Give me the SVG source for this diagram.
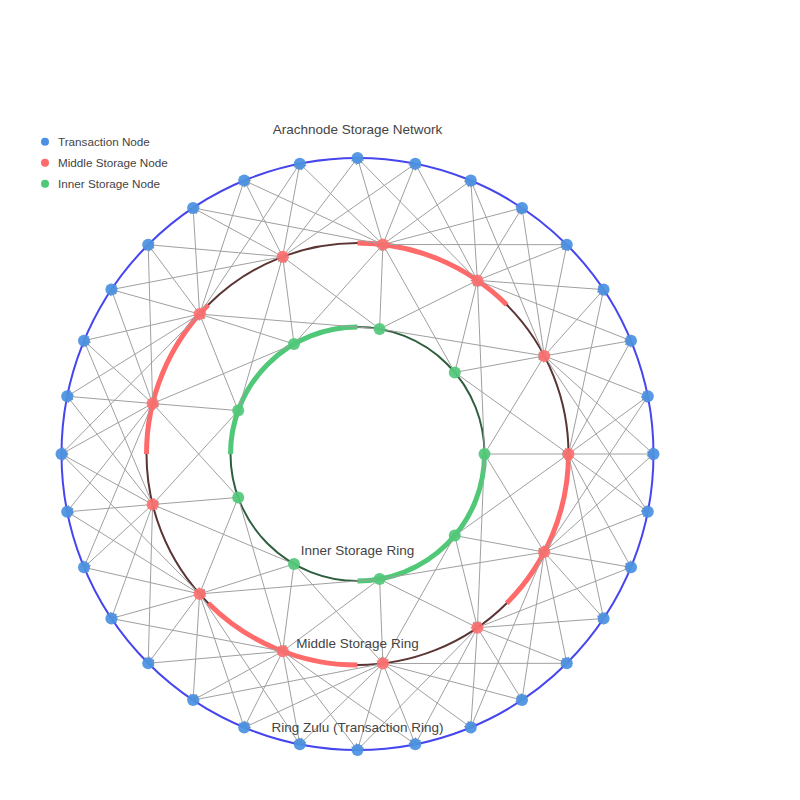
<svg xmlns="http://www.w3.org/2000/svg" width="800" height="800" viewBox="0 0 800 800">
<style>
.e{stroke:#a0a0a0;stroke-width:1;fill:none;marker-end:url(#ah)}
.t{fill:#4a90e2;fill-opacity:0.92}
.m{fill:#ff6b6b;fill-opacity:0.88}
.i{fill:#50c878;fill-opacity:0.92}
.lbl{font-family:"Liberation Sans",Arial,sans-serif;font-size:13.5px;fill:#444;text-anchor:middle}
.leg{font-family:"Liberation Sans",Arial,sans-serif;font-size:11.7px;fill:#444}
</style>
<defs>
<marker id="ah" viewBox="-8 -5 9 10" refX="0" refY="0" markerWidth="9" markerHeight="10" markerUnits="userSpaceOnUse" orient="auto">
<path d="M-6,-3 L0,0 L-6,3" fill="none" stroke="#999" stroke-width="1"/>
</marker>
</defs>
<rect width="800" height="800" fill="#fff"/>
<g id="rings">
<circle cx="357.5" cy="454" r="296" fill="none" stroke="#4646ee" stroke-width="2"/>
<circle cx="357.5" cy="454" r="211" fill="none" stroke="#5b3434" stroke-width="2"/>
<circle cx="357.5" cy="454" r="127" fill="none" stroke="#2e5e3e" stroke-width="2"/>
<g fill="none" stroke="#ff6b6b" stroke-width="5">
<path d="M506.7,304.8 A211,211 0 0 0 357.5,243"/>
<path d="M208.3,304.8 A211,211 0 0 0 146.5,454"/>
<path d="M208.3,603.2 A211,211 0 0 0 357.5,665"/>
<path d="M506.7,603.2 A211,211 0 0 0 568.5,454"/>
</g>
<g fill="none" stroke="#50c878" stroke-width="5">
<path d="M357.5,327 A127,127 0 0 0 230.5,454"/>
<path d="M357.5,581 A127,127 0 0 0 484.5,454"/>
</g>
</g>
<g id="connectors">
<line class="e" x1="568.5" y1="454" x2="653.5" y2="454"/>
<line class="e" x1="544.3" y1="355.9" x2="653.5" y2="454"/>
<line class="e" x1="544.3" y1="552.1" x2="653.5" y2="454"/>
<line class="e" x1="568.5" y1="454" x2="647.8" y2="396.3"/>
<line class="e" x1="544.3" y1="355.9" x2="647.8" y2="396.3"/>
<line class="e" x1="544.3" y1="552.1" x2="647.8" y2="396.3"/>
<line class="e" x1="544.3" y1="355.9" x2="631" y2="340.7"/>
<line class="e" x1="568.5" y1="454" x2="631" y2="340.7"/>
<line class="e" x1="477.4" y1="280.4" x2="631" y2="340.7"/>
<line class="e" x1="544.3" y1="355.9" x2="603.6" y2="289.6"/>
<line class="e" x1="477.4" y1="280.4" x2="603.6" y2="289.6"/>
<line class="e" x1="568.5" y1="454" x2="603.6" y2="289.6"/>
<line class="e" x1="477.4" y1="280.4" x2="566.8" y2="244.7"/>
<line class="e" x1="544.3" y1="355.9" x2="566.8" y2="244.7"/>
<line class="e" x1="382.9" y1="244.5" x2="566.8" y2="244.7"/>
<line class="e" x1="477.4" y1="280.4" x2="522" y2="207.9"/>
<line class="e" x1="382.9" y1="244.5" x2="522" y2="207.9"/>
<line class="e" x1="544.3" y1="355.9" x2="522" y2="207.9"/>
<line class="e" x1="477.4" y1="280.4" x2="470.8" y2="180.5"/>
<line class="e" x1="382.9" y1="244.5" x2="470.8" y2="180.5"/>
<line class="e" x1="544.3" y1="355.9" x2="470.8" y2="180.5"/>
<line class="e" x1="382.9" y1="244.5" x2="415.3" y2="163.7"/>
<line class="e" x1="477.4" y1="280.4" x2="415.3" y2="163.7"/>
<line class="e" x1="282.7" y1="256.7" x2="415.3" y2="163.7"/>
<line class="e" x1="382.9" y1="244.5" x2="357.5" y2="158"/>
<line class="e" x1="282.7" y1="256.7" x2="357.5" y2="158"/>
<line class="e" x1="477.4" y1="280.4" x2="357.5" y2="158"/>
<line class="e" x1="282.7" y1="256.7" x2="299.8" y2="163.7"/>
<line class="e" x1="382.9" y1="244.5" x2="299.8" y2="163.7"/>
<line class="e" x1="199.6" y1="314.1" x2="299.8" y2="163.7"/>
<line class="e" x1="282.7" y1="256.7" x2="244.2" y2="180.5"/>
<line class="e" x1="199.6" y1="314.1" x2="244.2" y2="180.5"/>
<line class="e" x1="382.9" y1="244.5" x2="244.2" y2="180.5"/>
<line class="e" x1="282.7" y1="256.7" x2="193.1" y2="207.9"/>
<line class="e" x1="199.6" y1="314.1" x2="193.1" y2="207.9"/>
<line class="e" x1="382.9" y1="244.5" x2="193.1" y2="207.9"/>
<line class="e" x1="199.6" y1="314.1" x2="148.2" y2="244.7"/>
<line class="e" x1="282.7" y1="256.7" x2="148.2" y2="244.7"/>
<line class="e" x1="152.6" y1="403.5" x2="148.2" y2="244.7"/>
<line class="e" x1="199.6" y1="314.1" x2="111.4" y2="289.6"/>
<line class="e" x1="152.6" y1="403.5" x2="111.4" y2="289.6"/>
<line class="e" x1="282.7" y1="256.7" x2="111.4" y2="289.6"/>
<line class="e" x1="152.6" y1="403.5" x2="84" y2="340.7"/>
<line class="e" x1="199.6" y1="314.1" x2="84" y2="340.7"/>
<line class="e" x1="152.6" y1="504.5" x2="84" y2="340.7"/>
<line class="e" x1="152.6" y1="403.5" x2="67.2" y2="396.3"/>
<line class="e" x1="152.6" y1="504.5" x2="67.2" y2="396.3"/>
<line class="e" x1="199.6" y1="314.1" x2="67.2" y2="396.3"/>
<line class="e" x1="152.6" y1="403.5" x2="61.5" y2="454"/>
<line class="e" x1="152.6" y1="504.5" x2="61.5" y2="454"/>
<line class="e" x1="199.6" y1="314.1" x2="61.5" y2="454"/>
<line class="e" x1="199.6" y1="593.9" x2="61.5" y2="454"/>
<line class="e" x1="152.6" y1="504.5" x2="67.2" y2="511.8"/>
<line class="e" x1="152.6" y1="403.5" x2="67.2" y2="511.8"/>
<line class="e" x1="199.6" y1="593.9" x2="67.2" y2="511.8"/>
<line class="e" x1="152.6" y1="504.5" x2="84" y2="567.3"/>
<line class="e" x1="199.6" y1="593.9" x2="84" y2="567.3"/>
<line class="e" x1="152.6" y1="403.5" x2="84" y2="567.3"/>
<line class="e" x1="199.6" y1="593.9" x2="111.4" y2="618.5"/>
<line class="e" x1="152.6" y1="504.5" x2="111.4" y2="618.5"/>
<line class="e" x1="282.7" y1="651.3" x2="111.4" y2="618.5"/>
<line class="e" x1="199.6" y1="593.9" x2="148.2" y2="663.3"/>
<line class="e" x1="282.7" y1="651.3" x2="148.2" y2="663.3"/>
<line class="e" x1="152.6" y1="504.5" x2="148.2" y2="663.3"/>
<line class="e" x1="282.7" y1="651.3" x2="193.1" y2="700.1"/>
<line class="e" x1="199.6" y1="593.9" x2="193.1" y2="700.1"/>
<line class="e" x1="382.9" y1="663.5" x2="193.1" y2="700.1"/>
<line class="e" x1="282.7" y1="651.3" x2="244.2" y2="727.5"/>
<line class="e" x1="199.6" y1="593.9" x2="244.2" y2="727.5"/>
<line class="e" x1="382.9" y1="663.5" x2="244.2" y2="727.5"/>
<line class="e" x1="282.7" y1="651.3" x2="299.8" y2="744.3"/>
<line class="e" x1="382.9" y1="663.5" x2="299.8" y2="744.3"/>
<line class="e" x1="199.6" y1="593.9" x2="299.8" y2="744.3"/>
<line class="e" x1="382.9" y1="663.5" x2="357.5" y2="750"/>
<line class="e" x1="282.7" y1="651.3" x2="357.5" y2="750"/>
<line class="e" x1="477.4" y1="627.7" x2="357.5" y2="750"/>
<line class="e" x1="382.9" y1="663.5" x2="415.3" y2="744.3"/>
<line class="e" x1="477.4" y1="627.7" x2="415.3" y2="744.3"/>
<line class="e" x1="282.7" y1="651.3" x2="415.3" y2="744.3"/>
<line class="e" x1="477.4" y1="627.7" x2="470.8" y2="727.5"/>
<line class="e" x1="382.9" y1="663.5" x2="470.8" y2="727.5"/>
<line class="e" x1="544.3" y1="552.1" x2="470.8" y2="727.5"/>
<line class="e" x1="477.4" y1="627.7" x2="522" y2="700.1"/>
<line class="e" x1="382.9" y1="663.5" x2="522" y2="700.1"/>
<line class="e" x1="544.3" y1="552.1" x2="522" y2="700.1"/>
<line class="e" x1="477.4" y1="627.7" x2="566.8" y2="663.3"/>
<line class="e" x1="544.3" y1="552.1" x2="566.8" y2="663.3"/>
<line class="e" x1="382.9" y1="663.5" x2="566.8" y2="663.3"/>
<line class="e" x1="544.3" y1="552.1" x2="603.6" y2="618.5"/>
<line class="e" x1="477.4" y1="627.7" x2="603.6" y2="618.5"/>
<line class="e" x1="568.5" y1="454" x2="603.6" y2="618.5"/>
<line class="e" x1="544.3" y1="552.1" x2="631" y2="567.3"/>
<line class="e" x1="568.5" y1="454" x2="631" y2="567.3"/>
<line class="e" x1="477.4" y1="627.7" x2="631" y2="567.3"/>
<line class="e" x1="568.5" y1="454" x2="647.8" y2="511.8"/>
<line class="e" x1="544.3" y1="552.1" x2="647.8" y2="511.8"/>
<line class="e" x1="544.3" y1="355.9" x2="647.8" y2="511.8"/>
<line class="e" x1="484.5" y1="454" x2="568.5" y2="454"/>
<line class="e" x1="454.8" y1="372.4" x2="568.5" y2="454"/>
<line class="e" x1="454.8" y1="535.6" x2="568.5" y2="454"/>
<line class="e" x1="454.8" y1="372.4" x2="544.3" y2="355.9"/>
<line class="e" x1="484.5" y1="454" x2="544.3" y2="355.9"/>
<line class="e" x1="379.6" y1="328.9" x2="544.3" y2="355.9"/>
<line class="e" x1="454.8" y1="372.4" x2="477.4" y2="280.4"/>
<line class="e" x1="379.6" y1="328.9" x2="477.4" y2="280.4"/>
<line class="e" x1="484.5" y1="454" x2="477.4" y2="280.4"/>
<line class="e" x1="379.6" y1="328.9" x2="382.9" y2="244.5"/>
<line class="e" x1="294" y1="344" x2="382.9" y2="244.5"/>
<line class="e" x1="454.8" y1="372.4" x2="382.9" y2="244.5"/>
<line class="e" x1="294" y1="344" x2="282.7" y2="256.7"/>
<line class="e" x1="379.6" y1="328.9" x2="282.7" y2="256.7"/>
<line class="e" x1="238.2" y1="410.6" x2="282.7" y2="256.7"/>
<line class="e" x1="294" y1="344" x2="199.6" y2="314.1"/>
<line class="e" x1="238.2" y1="410.6" x2="199.6" y2="314.1"/>
<line class="e" x1="379.6" y1="328.9" x2="199.6" y2="314.1"/>
<line class="e" x1="238.2" y1="410.6" x2="152.6" y2="403.5"/>
<line class="e" x1="238.2" y1="497.4" x2="152.6" y2="403.5"/>
<line class="e" x1="294" y1="344" x2="152.6" y2="403.5"/>
<line class="e" x1="238.2" y1="497.4" x2="152.6" y2="504.5"/>
<line class="e" x1="238.2" y1="410.6" x2="152.6" y2="504.5"/>
<line class="e" x1="294" y1="564" x2="152.6" y2="504.5"/>
<line class="e" x1="294" y1="564" x2="199.6" y2="593.9"/>
<line class="e" x1="238.2" y1="497.4" x2="199.6" y2="593.9"/>
<line class="e" x1="379.6" y1="579.1" x2="199.6" y2="593.9"/>
<line class="e" x1="294" y1="564" x2="282.7" y2="651.3"/>
<line class="e" x1="379.6" y1="579.1" x2="282.7" y2="651.3"/>
<line class="e" x1="238.2" y1="497.4" x2="282.7" y2="651.3"/>
<line class="e" x1="379.6" y1="579.1" x2="382.9" y2="663.5"/>
<line class="e" x1="294" y1="564" x2="382.9" y2="663.5"/>
<line class="e" x1="454.8" y1="535.6" x2="382.9" y2="663.5"/>
<line class="e" x1="454.8" y1="535.6" x2="477.4" y2="627.7"/>
<line class="e" x1="379.6" y1="579.1" x2="477.4" y2="627.7"/>
<line class="e" x1="484.5" y1="454" x2="477.4" y2="627.7"/>
<line class="e" x1="454.8" y1="535.6" x2="544.3" y2="552.1"/>
<line class="e" x1="484.5" y1="454" x2="544.3" y2="552.1"/>
<line class="e" x1="379.6" y1="579.1" x2="544.3" y2="552.1"/>
</g>
<g id="transaction-nodes" class="t">
<circle id="t0" cx="653.5" cy="454" r="6"/>
<circle id="t1" cx="647.8" cy="396.3" r="6"/>
<circle id="t2" cx="631" cy="340.7" r="6"/>
<circle id="t3" cx="603.6" cy="289.6" r="6"/>
<circle id="t4" cx="566.8" cy="244.7" r="6"/>
<circle id="t5" cx="522" cy="207.9" r="6"/>
<circle id="t6" cx="470.8" cy="180.5" r="6"/>
<circle id="t7" cx="415.3" cy="163.7" r="6"/>
<circle id="t8" cx="357.5" cy="158" r="6"/>
<circle id="t9" cx="299.8" cy="163.7" r="6"/>
<circle id="t10" cx="244.2" cy="180.5" r="6"/>
<circle id="t11" cx="193.1" cy="207.9" r="6"/>
<circle id="t12" cx="148.2" cy="244.7" r="6"/>
<circle id="t13" cx="111.4" cy="289.6" r="6"/>
<circle id="t14" cx="84" cy="340.7" r="6"/>
<circle id="t15" cx="67.2" cy="396.3" r="6"/>
<circle id="t16" cx="61.5" cy="454" r="6"/>
<circle id="t17" cx="67.2" cy="511.8" r="6"/>
<circle id="t18" cx="84" cy="567.3" r="6"/>
<circle id="t19" cx="111.4" cy="618.5" r="6"/>
<circle id="t20" cx="148.2" cy="663.3" r="6"/>
<circle id="t21" cx="193.1" cy="700.1" r="6"/>
<circle id="t22" cx="244.2" cy="727.5" r="6"/>
<circle id="t23" cx="299.8" cy="744.3" r="6"/>
<circle id="t24" cx="357.5" cy="750" r="6"/>
<circle id="t25" cx="415.3" cy="744.3" r="6"/>
<circle id="t26" cx="470.8" cy="727.5" r="6"/>
<circle id="t27" cx="522" cy="700.1" r="6"/>
<circle id="t28" cx="566.8" cy="663.3" r="6"/>
<circle id="t29" cx="603.6" cy="618.5" r="6"/>
<circle id="t30" cx="631" cy="567.3" r="6"/>
<circle id="t31" cx="647.8" cy="511.8" r="6"/>
</g>
<g id="middle-nodes" class="m">
<circle id="m0" cx="568.5" cy="454" r="6"/>
<circle id="m1" cx="544.3" cy="355.9" r="6"/>
<circle id="m2" cx="477.4" cy="280.4" r="6"/>
<circle id="m3" cx="382.9" cy="244.5" r="6"/>
<circle id="m4" cx="282.7" cy="256.7" r="6"/>
<circle id="m5" cx="199.6" cy="314.1" r="6"/>
<circle id="m6" cx="152.6" cy="403.5" r="6"/>
<circle id="m7" cx="152.6" cy="504.5" r="6"/>
<circle id="m8" cx="199.6" cy="593.9" r="6"/>
<circle id="m9" cx="282.7" cy="651.3" r="6"/>
<circle id="m10" cx="382.9" cy="663.5" r="6"/>
<circle id="m11" cx="477.4" cy="627.7" r="6"/>
<circle id="m12" cx="544.3" cy="552.1" r="6"/>
</g>
<g id="inner-nodes" class="i">
<circle id="i0" cx="484.5" cy="454" r="6"/>
<circle id="i1" cx="454.8" cy="372.4" r="6"/>
<circle id="i2" cx="379.6" cy="328.9" r="6"/>
<circle id="i3" cx="294" cy="344" r="6"/>
<circle id="i4" cx="238.2" cy="410.6" r="6"/>
<circle id="i5" cx="238.2" cy="497.4" r="6"/>
<circle id="i6" cx="294" cy="564" r="6"/>
<circle id="i7" cx="379.6" cy="579.1" r="6"/>
<circle id="i8" cx="454.8" cy="535.6" r="6"/>
</g>
<g id="labels">
<text class="lbl" x="357.5" y="133.5">Arachnode Storage Network</text>
<text class="lbl" x="357.5" y="555">Inner Storage Ring</text>
<text class="lbl" x="357.5" y="648">Middle Storage Ring</text>
<text class="lbl" x="357.5" y="731.5">Ring Zulu (Transaction Ring)</text>
</g>
<g id="legend">
<circle cx="45" cy="141.7" r="4" fill="#4a90e2"/>
<circle cx="45" cy="162.7" r="4" fill="#ff6b6b"/>
<circle cx="45" cy="183.7" r="4" fill="#50c878"/>
<text class="leg" x="58" y="145.8">Transaction Node</text>
<text class="leg" x="58" y="166.8">Middle Storage Node</text>
<text class="leg" x="58" y="187.8">Inner Storage Node</text>
</g>
</svg>
